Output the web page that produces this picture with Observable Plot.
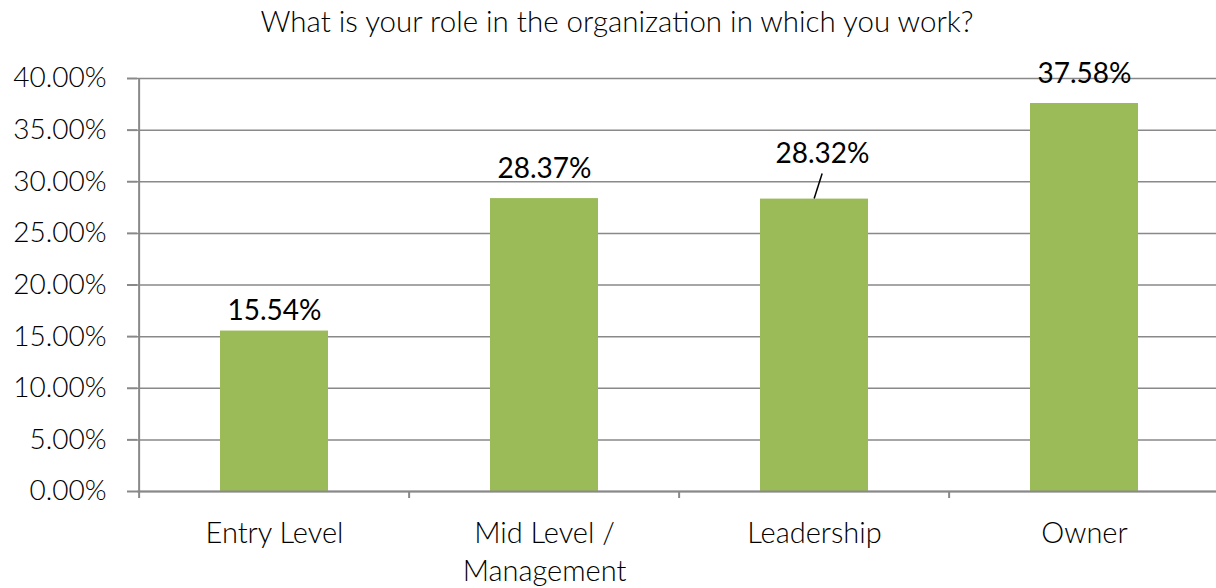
<!DOCTYPE html>
<html><head><meta charset="utf-8">
<script src="https://cdn.jsdelivr.net/npm/d3@7"></script>
<script src="https://cdn.jsdelivr.net/npm/@observablehq/plot@0.6"></script>
<style>
body{margin:0;background:#fff;font-family:Lato,sans-serif;}
#title{height:50px;box-sizing:border-box;padding-top:5px;padding-left:18px;text-align:center;font-size:29.5px;font-weight:300;line-height:31px;color:#000;white-space:nowrap;}
</style></head><body>
<div id="title">What is your role in the organization in which you work?</div>
<div id="chart"></div>
<script>
const categories = ["Entry Level", "Mid Level /\nManagement", "Leadership", "Owner"];
const values = [15.54, 28.37, 28.32, 37.58];
const yTicks = [0, 5, 10, 15, 20, 25, 30, 35, 40];

const data = categories.map((role, i) => ({role, value: values[i]}));

const W = 1216, H = 538, ML = 137, MR = -4, MT = 28, MB = 97;
const step = (W - ML - MR) / categories.length;
const fmt = d => d.toFixed(2) + "%";
const grid = "#898989";

// label nudges (pixels) per bar: [dx, dy]
const nudges = {"Entry Level": [0, -11], "Mid Level /\nManagement": [0, -21], "Leadership": [8, -36], "Owner": [0, -20]};

const labelMarks = data.map(d => Plot.text([d], {
  x: "role", y: "value", text: r => fmt(r.value),
  dx: nudges[d.role][0], dy: nudges[d.role][1],
  lineAnchor: "bottom", fontSize: 28, fontWeight: 400, fill: "#000"
}));

const leader = (index, scales) => {
  const cat = "Leadership";
  const v = values[categories.indexOf(cat)];
  const bw = typeof scales.x.bandwidth === "number" ? scales.x.bandwidth : step * 0.4;
  const cx = scales.x(cat) + bw / 2;
  const y0 = scales.y(v);
  const g = d3.create("svg:line")
    .attr("x1", cx).attr("y1", y0)
    .attr("x2", cx + 8).attr("y2", y0 - 25)
    .attr("stroke", "#000").attr("stroke-width", 1.5);
  return g.node();
};

const chart = Plot.plot({
  width: W, height: H,
  marginLeft: ML, marginRight: MR, marginTop: MT, marginBottom: MB,
  style: {fontFamily: "Lato, sans-serif", fontSize: "28px", fontWeight: 300, background: "#fff", color: "#000"},
  x: {domain: categories, paddingInner: 0.6, paddingOuter: 0.3, align: 0.5},
  y: {domain: [0, 40]},
  marks: [
    Plot.gridY(yTicks, {stroke: grid, strokeOpacity: 1, strokeWidth: 1.5}),
    Plot.barY(data, {x: "role", y: "value", fill: "#9BBB59"}),
    Plot.ruleY([0], {stroke: grid, strokeWidth: 2}),
    Plot.ruleX([categories[0]], {dx: -step / 2, y1: 0, y2: 40, stroke: grid, strokeWidth: 2}),
    Plot.ruleX(categories, {x: d => d, dx: -step / 2, y1: 0, y2: 0, insetBottom: -7, stroke: grid, strokeWidth: 2}),
    Plot.axisY({ticks: yTicks, tickSize: 10, tickPadding: 21, tickFormat: fmt, stroke: grid, strokeWidth: 2, fill: "#000", label: null, fontSize: 28}),
    Plot.axisX({tickSize: 0, tickPadding: 24, label: null, fontSize: 29, lineHeight: 1.33, fill: "#000"}),
    ...labelMarks,
    leader
  ]
});
document.getElementById("chart").append(chart);
</script>
</body></html>
